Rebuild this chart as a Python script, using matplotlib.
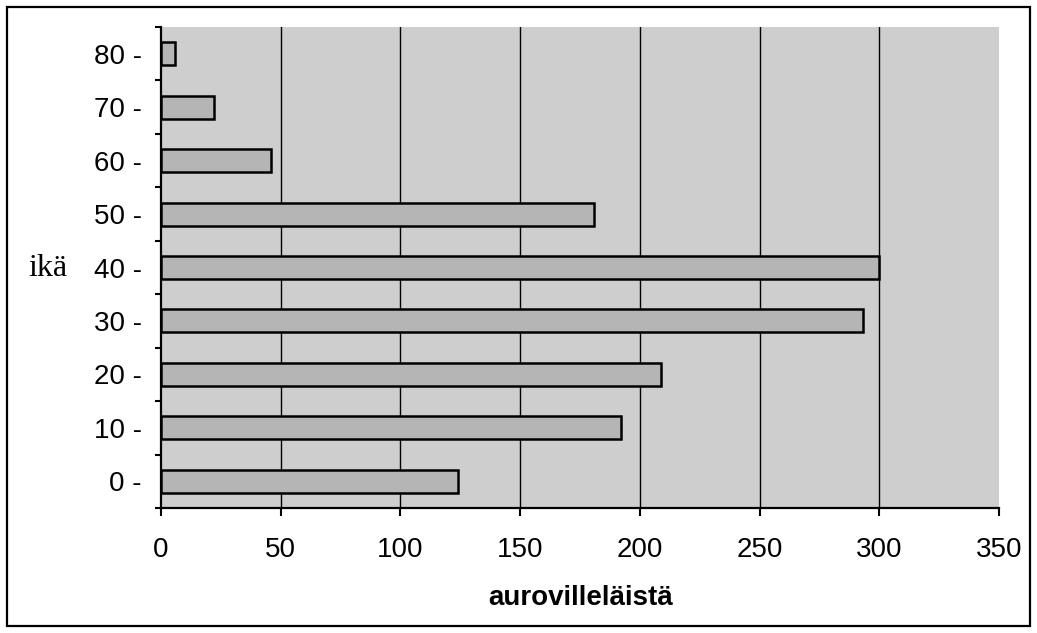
import matplotlib.pyplot as plt
from matplotlib.patches import Rectangle

ages = [0, 10, 20, 30, 40, 50, 60, 70, 80]
counts = [124, 192, 209, 293, 300, 181, 46, 22, 6]
x_ticks = [0, 50, 100, 150, 200, 250, 300, 350]

plt.rcParams["font.family"] = ["Liberation Sans", "DejaVu Sans"]

fig = plt.figure(figsize=(10.37, 6.33), dpi=100)
ax = fig.add_axes([161 / 1037, 1 - 508 / 633, (999 - 161) / 1037, (508 - 27) / 633])

pos = list(range(len(ages)))
ax.set_facecolor("#cecece")
ax.barh(pos, counts, height=0.43, color="#b5b5b5", edgecolor="black",
        linewidth=1.8, zorder=3)

# gridlines only inside the plot, none at the right edge
for v in x_ticks[1:-1]:
    ax.axvline(v, color="black", linewidth=1.0, zorder=1)

ax.set_xlim(0, 350)
ax.set_ylim(-0.5, len(ages) - 0.5)
ax.set_xticks(x_ticks)
ax.set_yticks(pos)
ax.set_yticklabels([f"{a} -" for a in ages])
ax.set_yticks([p - 0.5 for p in pos] + [len(ages) - 0.5], minor=True)

ax.tick_params(axis="x", direction="out", length=6, width=1.5, pad=15, labelsize=20)
ax.tick_params(axis="y", which="major", length=0, pad=14, labelsize=20)
ax.tick_params(axis="y", which="minor", direction="out", length=4.5, width=1.5)

for s in ["top", "right"]:
    ax.spines[s].set_visible(False)
for s in ["left", "bottom"]:
    ax.spines[s].set_linewidth(1.6)

fig.text(28 / 1037, 1 - 269 / 633, "ikä", family=["Liberation Serif", "DejaVu Serif"],
         fontsize=23, va="center", ha="left")
fig.text(581 / 1037, 1 - 598 / 633, "aurovilleläistä", fontsize=20, fontweight="bold",
         ha="center", va="center")

fig.patches.append(Rectangle((7 / 1037, 7 / 633), 1023 / 1037, 619 / 633,
                             transform=fig.transFigure, fill=False,
                             edgecolor="black", linewidth=1.6))

fig.savefig("out.png", dpi=100)
